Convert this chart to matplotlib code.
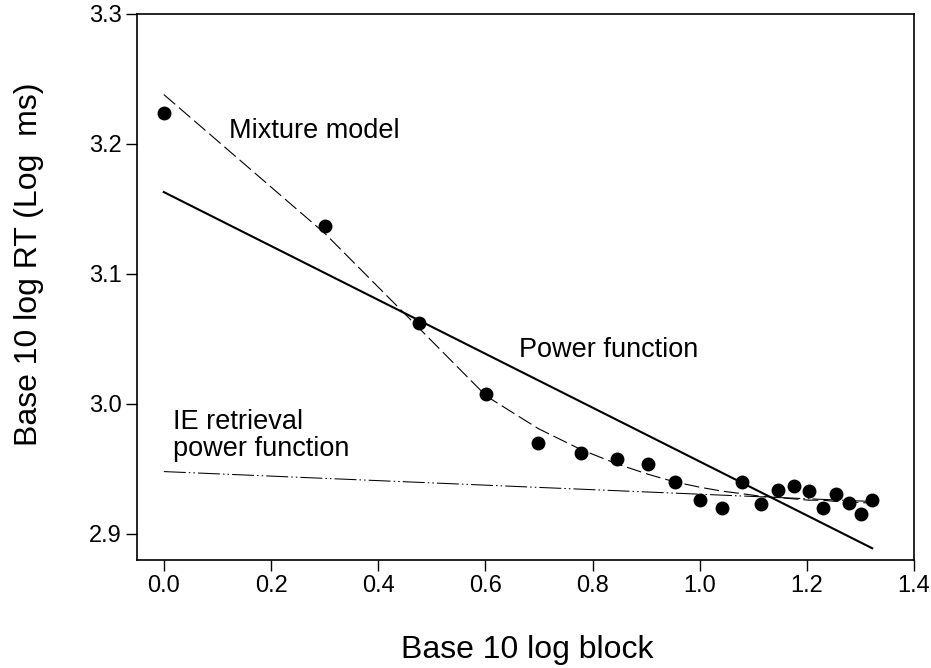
import matplotlib
matplotlib.use("Agg")
import matplotlib.pyplot as plt

# ── Data ──────────────────────────────────────────────────────────────────────
log_block = [0.000, 0.301, 0.477, 0.602, 0.699, 0.778, 0.845, 0.903, 0.954, 1.000,
             1.041, 1.079, 1.114, 1.146, 1.176, 1.204, 1.230, 1.255, 1.279, 1.301, 1.322]
log_rt = [3.224, 3.137, 3.062, 3.008, 2.970, 2.962, 2.958, 2.954, 2.940, 2.926,
          2.920, 2.940, 2.923, 2.934, 2.937, 2.933, 2.920, 2.931, 2.924, 2.915, 2.926]

mixture_fit = [3.238, 3.131, 3.058, 3.006, 2.981, 2.965, 2.954, 2.946, 2.940, 2.936,
               2.933, 2.931, 2.929, 2.928, 2.927, 2.926, 2.926, 2.925, 2.925, 2.924, 2.924]

power_x = [0.0, 1.322]
power_y = [3.163, 2.889]

ie_x = [0.0, 1.322]
ie_y = [2.948, 2.925]

x_ticks = [0.0, 0.2, 0.4, 0.6, 0.8, 1.0, 1.2, 1.4]
y_ticks = [2.9, 3.0, 3.1, 3.2, 3.3]

plt.rcParams["font.family"] = ["Liberation Sans", "DejaVu Sans"]
plt.rcParams["lines.scale_dashes"] = False

fig = plt.figure(figsize=(9.31, 6.68), dpi=100)
ax = fig.add_axes([0.1472, 0.1617, 0.8346, 0.8174])

ax.plot(power_x, power_y, color="black", lw=1.5)
ax.plot(log_block, mixture_fit, color="black", lw=0.8, dashes=(10.8, 3.6))
ax.plot(ie_x, ie_y, color="black", lw=0.75,
        dashes=(15.8, 2.2, 1.1, 2.2, 1.1, 2.2))
ax.plot(log_block, log_rt, "o", color="black", ms=9, zorder=5)

ax.text(0.122, 3.210, "Mixture model", fontsize=19.5, va="center", ha="left")
ax.text(0.663, 3.0415, "Power function", fontsize=19.5, va="center", ha="left")
ax.text(0.017, 2.976, "IE retrieval\npower function", fontsize=19.5,
        va="center", ha="left", linespacing=1.05)

ax.set_xlim(-0.05, 1.4)
ax.set_ylim(2.88, 3.3)
ax.set_xticks(x_ticks)
ax.set_xticklabels([f"{t:.1f}" for t in x_ticks])
ax.set_yticks(y_ticks)
ax.set_yticklabels([f"{t:.1f}" for t in y_ticks])
ax.tick_params(labelsize=17, length=8, width=1, direction="out", pad=3)
for s in ax.spines.values():
    s.set_linewidth(1.2)

fig.text(0.566, 0.027, "Base 10 log block", fontsize=23, ha="center", va="center")
fig.text(0.031, 0.605, "Base 10 log RT (Log  ms)", fontsize=23, ha="center",
         va="center", rotation=90)

fig.savefig("out.png", dpi=100)
